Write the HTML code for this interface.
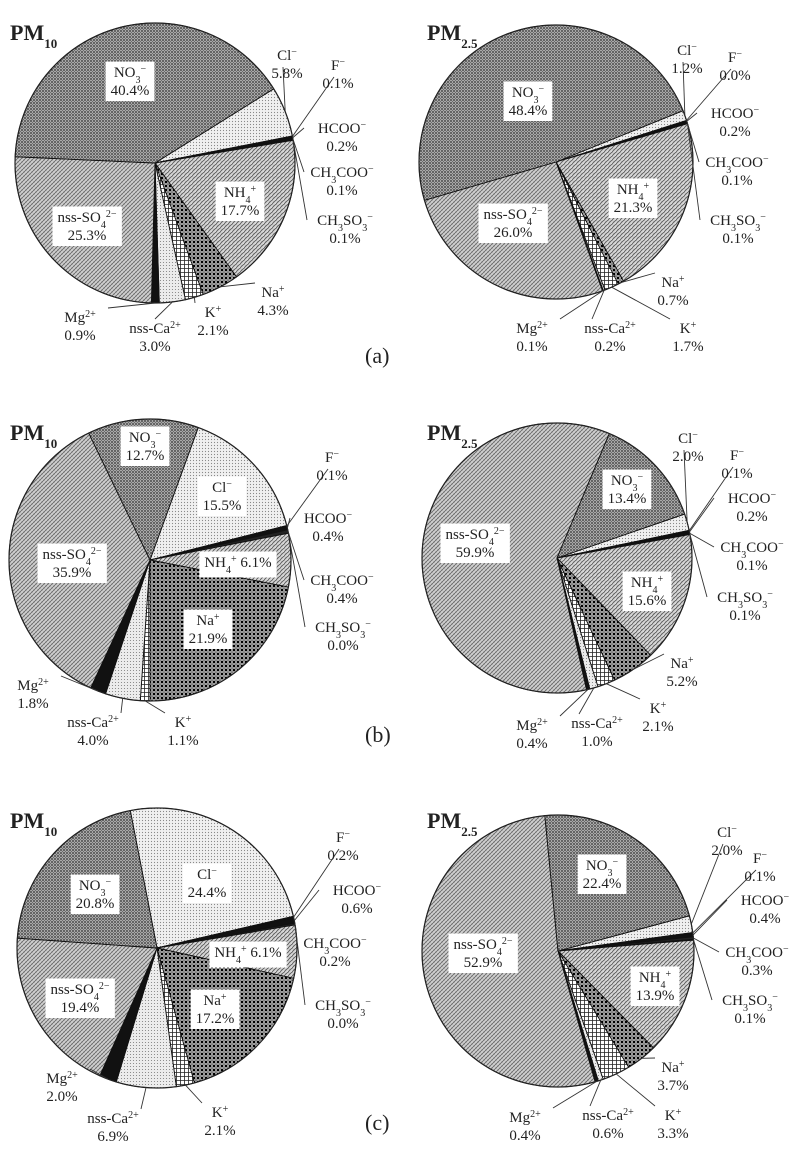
<!DOCTYPE html>
<html><head><meta charset="utf-8">
<style>
html,body{margin:0;padding:0;background:#fff;}
svg{display:block;}
text{font-family:"Liberation Serif",serif;fill:#222;}
</style></head>
<body>
<svg id="fig" width="800" height="1153" viewBox="0 0 800 1153" xmlns="http://www.w3.org/2000/svg">
<defs>
  <pattern id="pNO3" width="3" height="3" patternUnits="userSpaceOnUse">
    <rect width="3" height="3" fill="#a8a8a8"/><circle cx="1" cy="1" r="0.9" fill="#333"/><circle cx="2.5" cy="2.5" r="0.5" fill="#555"/>
  </pattern>
  <pattern id="pCl" width="3" height="3" patternUnits="userSpaceOnUse">
    <rect width="3" height="3" fill="#f0f0f0"/><circle cx="1.5" cy="1.5" r="0.6" fill="#888"/>
  </pattern>
  <pattern id="pNH4" width="4" height="4" patternUnits="userSpaceOnUse">
    <rect width="4" height="4" fill="#d6d6d6"/><path d="M0,4 L4,0" stroke="#555" stroke-width="0.8"/><path d="M0,0 L2,2" stroke="#777" stroke-width="0.5"/>
  </pattern>
  <pattern id="pNa" width="4" height="4" patternUnits="userSpaceOnUse">
    <rect width="4" height="4" fill="#fff"/><circle cx="2" cy="2" r="1.5" fill="#000"/><circle cx="0" cy="0" r="0.8" fill="#000"/><circle cx="4" cy="4" r="0.8" fill="#000"/><circle cx="4" cy="0" r="0.8" fill="#000"/><circle cx="0" cy="4" r="0.8" fill="#000"/>
  </pattern>
  <pattern id="pK" width="4" height="4" patternUnits="userSpaceOnUse">
    <rect width="4" height="4" fill="#fff"/><path d="M0,0.5 H4 M0.5,0 V4" stroke="#222" stroke-width="0.8"/>
  </pattern>
  <pattern id="pCa" width="3" height="3" patternUnits="userSpaceOnUse">
    <rect width="3" height="3" fill="#ececec"/><circle cx="1.5" cy="1.5" r="0.55" fill="#777"/>
  </pattern>
  <pattern id="pSO4" width="4" height="4" patternUnits="userSpaceOnUse">
    <rect width="4" height="4" fill="#cfcfcf"/><path d="M0,4 L4,0" stroke="#555" stroke-width="0.7"/><path d="M0,0 L4,4" stroke="#888" stroke-width="0.5"/>
  </pattern>
</defs>
<g id="pies"></g>
<text x="365" y="363" font-size="22">(a)</text>
<text x="365" y="742" font-size="22">(b)</text>
<text x="365" y="1130" font-size="22">(c)</text>
</svg>
<script>
// ---- data ----
const categories = ["Cl-","F-","HCOO-","CH3COO-","CH3SO3-","NH4+","Na+","K+","nss-Ca2+","Mg2+","nss-SO42-","NO3-"];
const valuesA_PM10  = [5.8,0.1,0.2,0.1,0.1,17.7,4.3,2.1,3.0,0.9,25.3,40.4];
const valuesA_PM25  = [1.2,0.0,0.2,0.1,0.1,21.3,0.7,1.7,0.2,0.1,26.0,48.4];
const valuesB_PM10  = [15.5,0.1,0.4,0.4,0.0,6.1,21.9,1.1,4.0,1.8,35.9,12.7];
const valuesB_PM25  = [2.0,0.1,0.2,0.1,0.1,15.6,5.2,2.1,1.0,0.4,59.9,13.4];
const valuesC_PM10  = [24.4,0.2,0.6,0.2,0.0,6.1,17.2,2.1,6.9,2.0,19.4,20.8];
const valuesC_PM25  = [2.0,0.1,0.4,0.3,0.1,13.9,3.7,3.3,0.6,0.4,52.9,22.4];

// ---- styling / layout (not data) ----
const SUP = s => '<tspan baseline-shift="super" font-size="10">'+s+'</tspan>';
const SUB = s => '<tspan baseline-shift="sub" font-size="10">'+s+'</tspan>';
const nameMarkup = [
  'Cl'+SUP('−'), 'F'+SUP('−'), 'HCOO'+SUP('−'), 'CH'+SUB('3')+'COO'+SUP('−'),
  'CH'+SUB('3')+'SO'+SUB('3')+SUP('−'), 'NH'+SUB('4')+SUP('+'), 'Na'+SUP('+'), 'K'+SUP('+'),
  'nss-Ca'+SUP('2+'), 'Mg'+SUP('2+'), 'nss-SO'+SUB('4')+SUP('2−'), 'NO'+SUB('3')+SUP('−')
];
const fills = ["url(#pCl)","#111","#111","#222","#222","url(#pNH4)","url(#pNa)","url(#pK)","url(#pCa)","#111","url(#pSO4)","url(#pNO3)"];
const slug = ["cl","f","hcoo","ch3coo","ch3so3","nh4","na","k","nss-ca","mg","nss-so4","no3"];

const pies = [
 {id:"a-pm10", title:"10", tx:10, ty:40, cx:155, cy:163, r:140, start:58, values:valuesA_PM10,
  lab:[['t',287,55],['t',338,65],['t',342,128],['t',342,172],['t',345,220],['b',240,200],['t',273,292],['t',213,312],['t',155,328],['t',80,317],['b',87,225],['b',130,80]]},
 {id:"a-pm25", title:"2.5", tx:427, ty:40, cx:556, cy:162, r:137, start:68, values:valuesA_PM25,
  lab:[['t',687,50],['t',735,57],['t',735,113],['t',737,162],['t',738,220],['b',633,197],['t',673,282],['t',688,328],['t',610,328],['t',532,328],['b',513,222],['b',528,100]]},
 {id:"b-pm10", title:"10", tx:10, ty:440, cx:150, cy:560, r:141, start:20, values:valuesB_PM10,
  lab:[['b',222,495],['t',332,457],['t',328,518],['t',342,580],['t',343,627],['s',238,562],['b',208,628],['t',183,722],['t',93,722],['t',33,685],['b',72,562],['b',145,445]]},
 {id:"b-pm25", title:"2.5", tx:427, ty:440, cx:557, cy:558, r:135, start:71, values:valuesB_PM25,
  lab:[['t',688,438],['t',737,455],['t',752,498],['t',752,547],['t',745,597],['b',647,590],['t',682,663],['t',658,708],['t',597,723],['t',532,725],['b',475,542],['b',627,488]]},
 {id:"c-pm10", title:"10", tx:10, ty:828, cx:157, cy:948, r:140, start:-11, values:valuesC_PM10,
  lab:[['b',207,882],['t',343,837],['t',357,890],['t',335,943],['t',343,1005],['s',248,952],['b',215,1008],['t',220,1112],['t',113,1118],['t',62,1078],['b',80,997],['b',95,893]]},
 {id:"c-pm25", title:"2.5", tx:427, ty:828, cx:558, cy:951, r:136, start:75, values:valuesC_PM25,
  lab:[['t',727,832],['t',760,858],['t',765,900],['t',757,952],['t',750,1000],['b',655,985],['t',673,1067],['t',673,1115],['t',608,1115],['t',525,1117],['b',483,952],['b',602,873]]}
];

const NS = "http://www.w3.org/2000/svg";
const root = document.getElementById("pies");
function pt(cx,cy,r,deg){const a=deg*Math.PI/180;return [cx+r*Math.sin(a), cy-r*Math.cos(a)];}

pies.forEach(p=>{
  const g = document.createElementNS(NS,"g");
  
  
  root.appendChild(g);
  const title = document.createElementNS(NS,"text");
  
  
  title.setAttribute("x",p.tx); title.setAttribute("y",p.ty);
  title.setAttribute("font-size","22"); title.setAttribute("font-weight","bold");
  title.innerHTML = 'PM<tspan baseline-shift="sub" font-size="13">'+p.title+'</tspan>';
  g.appendChild(title);
  const total = p.values.reduce((a,b)=>a+b,0);
  let ang = p.start;
  const mids = [];
  p.values.forEach((v,i)=>{
    const sweep = v/total*360;
    const a0 = ang, a1 = ang+sweep;
    mids.push((a0+a1)/2);
    ang = a1;
    if (sweep<=0) return;
    const [x0,y0]=pt(p.cx,p.cy,p.r,a0), [x1,y1]=pt(p.cx,p.cy,p.r,a1);
    const path = document.createElementNS(NS,"path");
    
    
    path.setAttribute("d",`M${p.cx},${p.cy} L${x0},${y0} A${p.r},${p.r} 0 ${sweep>180?1:0} 1 ${x1},${y1} Z`);
    path.setAttribute("fill",fills[i]); path.setAttribute("stroke","#111"); path.setAttribute("stroke-width","0.9");
    g.appendChild(path);
  });
  const circ = document.createElementNS(NS,"circle");
  
  
  circ.setAttribute("cx",p.cx); circ.setAttribute("cy",p.cy); circ.setAttribute("r",p.r);
  circ.setAttribute("fill","none"); circ.setAttribute("stroke","#222"); circ.setAttribute("stroke-width","1.2");
  g.appendChild(circ);
  // labels
  p.lab.forEach((L,i)=>{
    const [type,x,y] = L;
    const v = p.values[i];
    const t = document.createElementNS(NS,"text");
    
    
    t.setAttribute("text-anchor","middle"); t.setAttribute("font-size","15");
    const pct = v.toFixed(1)+'%';
    if (type==='s') {
      t.innerHTML = `<tspan x="${x}" y="${y+5}">${nameMarkup[i]} ${pct}</tspan>`;
    } else if (type==='b') {
      t.innerHTML = `<tspan x="${x}" y="${y-3}">${nameMarkup[i]}</tspan><tspan x="${x}" y="${y+15}">${pct}</tspan>`;
    } else {
      t.innerHTML = `<tspan x="${x}" y="${y+5}">${nameMarkup[i]}</tspan><tspan x="${x}" y="${y+23}">${pct}</tspan>`;
    }
    if (type!=='t') {
      g.appendChild(t);
      const bb = t.getBBox();
      const rect = document.createElementNS(NS,"rect");
      
      
      rect.setAttribute("x",bb.x-5); rect.setAttribute("y",bb.y-2);
      rect.setAttribute("width",bb.width+10); rect.setAttribute("height",bb.height+4);
      rect.setAttribute("fill","#fff");
      g.insertBefore(rect,t);
    } else {
      // leader line from slice edge to label
      const [ex,ey] = pt(p.cx,p.cy,p.r,mids[i]);
      let lx,ly;
      if (y < p.cy - p.r*0.6) { lx=x-4; ly=y+12; }
      else if (y > p.cy + p.r*0.7) { lx = x + (x < p.cx-10 ? 28 : (x > p.cx+10 ? -18 : 0)); ly = y-9; }
      else if (x > p.cx) { lx=x-38; ly=y; }
      else { lx=x+28; ly=y; }
      const ln = document.createElementNS(NS,"polyline");
      
      
      ln.setAttribute("points",`${ex},${ey} ${lx},${ly}`);
      ln.setAttribute("fill","none"); ln.setAttribute("stroke","#333"); ln.setAttribute("stroke-width","0.9");
      g.appendChild(ln);
      g.appendChild(t);
    }
  });
});
</script>
</body></html>
